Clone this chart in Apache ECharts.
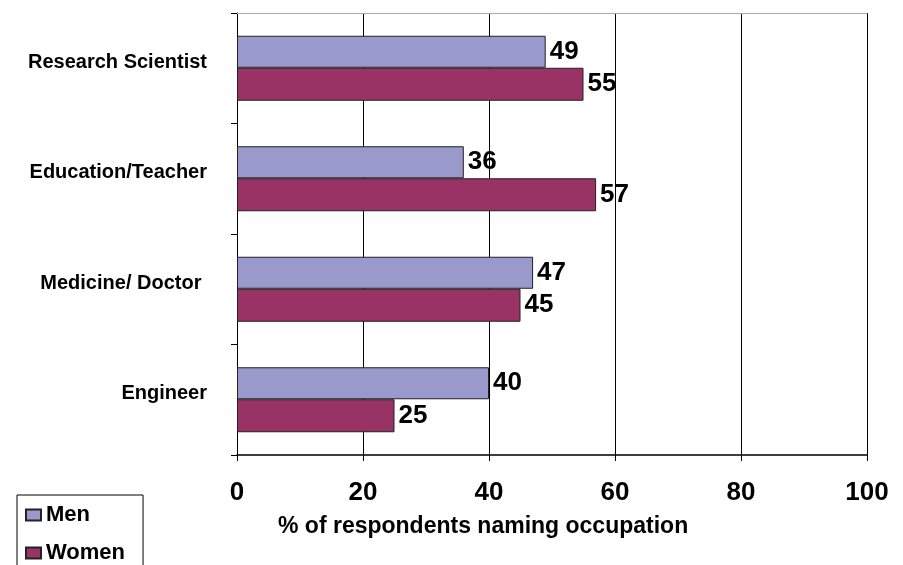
<!DOCTYPE html>
<html>
<head>
<meta charset="utf-8">
<script src="https://cdn.jsdelivr.net/npm/echarts@6/dist/echarts.min.js"></script>
<style>
  html, body { margin: 0; padding: 0; background: #fff; }
  #chart { width: 903px; height: 565px; }
</style>
</head>
<body>
<div id="chart"></div>
<script>
// categories from bottom to top
var categories = ["Engineer", "Medicine/ Doctor ", "Education/Teacher", "Research Scientist"];
var menValues = [40, 47, 36, 49];
var womenValues = [25, 45, 57, 55];
var seriesNames = ["Men", "Women"];
var xTicks = [0, 20, 40, 60, 80, 100];
var axisTitle = "% of respondents naming occupation";

var font = "'Liberation Sans', Arial, sans-serif";

var chart = echarts.init(document.getElementById("chart"));

var labelStyle = {
    show: true,
    position: "right",
    distance: 4,
    color: "#000",
    fontFamily: font,
    fontWeight: "bold",
    fontSize: 26
};

chart.setOption({
    animation: false,
    title: {
        text: axisTitle,
        left: 273,
        top: 510,
        textStyle: { fontFamily: font, fontWeight: "bold", fontSize: 23, color: "#000" }
    },
    legend: {
        data: seriesNames,
        orient: "vertical",
        left: 17,
        top: 495,
        height: 90,
        icon: "rect",
        padding: [8, 18, 30, 8],
        itemGap: 14,
        itemWidth: 15,
        itemHeight: 11,
        borderColor: "#000",
        borderWidth: 1,
        textStyle: { fontFamily: font, fontWeight: "bold", fontSize: 22, lineHeight: 24, color: "#000" }
    },
    grid: { left: 237, right: 36, top: 13, bottom: 110 },
    xAxis: [{
        type: "value",
        min: xTicks[0],
        max: xTicks[xTicks.length - 1],
        interval: 20,
        axisLine: { show: true, lineStyle: { color: "#000", width: 1.5 } },
        axisTick: { show: true, inside: false, length: 6, lineStyle: { color: "#000" } },
        splitLine: { show: true, lineStyle: { color: "#000", width: 1 } },
        axisLabel: {
            margin: 25,
            color: "#000",
            fontFamily: font,
            fontWeight: "bold",
            fontSize: 26
        }
    }, {
        type: "value",
        position: "top",
        min: 0,
        max: 100,
        axisLine: { show: true, lineStyle: { color: "#aaa", width: 1 } },
        axisTick: { show: false },
        axisLabel: { show: false },
        splitLine: { show: false }
    }],
    yAxis: {
        type: "category",
        data: categories,
        axisLine: { show: true, lineStyle: { color: "#000", width: 1 } },
        axisTick: { show: true, length: 6, lineStyle: { color: "#000" } },
        axisLabel: {
            margin: 30,
            color: "#000",
            fontFamily: font,
            fontWeight: "bold",
            fontSize: 20,
            lineHeight: 12,
            verticalAlign: "bottom"
        }
    },
    series: [{
        name: seriesNames[0],
        type: "bar",
        data: menValues,
        barWidth: 32,
        barGap: "0%",
        z: 3,
        itemStyle: { color: "#9999cc", borderColor: "#222", borderWidth: 1 },
        label: labelStyle
    }, {
        name: seriesNames[1],
        type: "bar",
        data: womenValues,
        barWidth: 33,
        barGap: "0%",
        z: 3,
        itemStyle: { color: "#993366", borderColor: "#222", borderWidth: 1 },
        label: labelStyle
    }]
});
</script>
</body>
</html>
